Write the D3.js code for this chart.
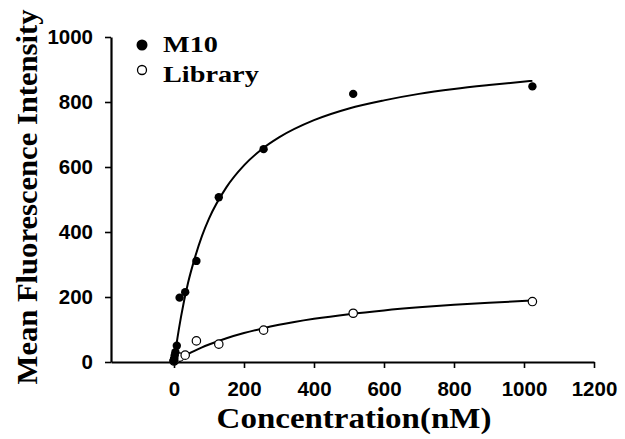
<!DOCTYPE html>
<html><head><meta charset="utf-8">
<script src="https://cdn.jsdelivr.net/npm/d3@7"></script>
<style>html,body{margin:0;padding:0;background:#fff;}svg{display:block;}</style>
</head><body>
<svg id="c" width="625" height="439"></svg>
<script>
// Data
const conc = [0, 1, 2, 4, 8, 16, 32, 64, 128, 256, 512, 1024];
const m10 = [5, 10, 20, 30, 50, 198, 215, 311, 507, 655, 825, 848];
const library = [3, 5, 8, 12, 10, 15, 21, 65, 55, 98, 150, 186];
// Fitted curves
const fitX = [0, 5, 10, 20, 40, 60, 80, 100, 150, 200, 250, 300, 400, 500, 600, 700, 800, 900, 1024];
const fitM10 = [0, 39, 75, 139, 243, 322, 388, 441, 538, 605, 654, 691, 744, 780, 805, 825, 840, 852, 865];
const fitLib = [0, 3.3, 6.6, 12.9, 24.6, 35.2, 45, 53.8, 73.2, 89.1, 102.5, 114.3, 132.8, 147.2, 158.7, 168.1, 175.9, 182.4, 189];
const xTicks = [0, 200, 400, 600, 800, 1000, 1200];
const yTicks = [0, 200, 400, 600, 800, 1000];
const seriesNames = ["M10", "Library"];

const svg = d3.select("#c");
const x = d3.scaleLinear().domain([-180, 1200]).range([111, 594]);
const y = d3.scaleLinear().domain([0, 1000]).range([362, 37]);

const tickFont = "'Liberation Sans', Arial, sans-serif";
const serif = "'Liberation Serif', 'Times New Roman', serif";

// axes
const xAxis = svg.append("g").attr("transform", `translate(0,${y(0)})`)
  .call(d3.axisBottom(x).tickValues(xTicks).tickFormat(d3.format("d")).tickSize(6).tickPadding(13).tickSizeOuter(0));
const yAxis = svg.append("g").attr("transform", `translate(${x.range()[0]},0)`)
  .call(d3.axisLeft(y).tickValues(yTicks).tickFormat(d3.format("d")).tickSize(6).tickPadding(12).tickSizeOuter(0));
[xAxis, yAxis].forEach(g => {
  g.select(".domain").attr("stroke", "#000").attr("stroke-width", 2.2);
  g.selectAll(".tick line").attr("stroke", "#000").attr("stroke-width", 1.6);
  g.selectAll(".tick text").attr("fill", "#000").style("font-family", tickFont)
    .style("font-weight", "bold").style("font-size", "20.5px");
});

// fitted curves
const line = d3.line().x(d => x(d[0])).y(d => y(d[1])).curve(d3.curveMonotoneX);
svg.append("path").datum(fitX.map((v, i) => [v, fitM10[i]]))
  .attr("d", line).attr("fill", "none").attr("stroke", "#000").attr("stroke-width", 2);
svg.append("path").datum(fitX.map((v, i) => [v, fitLib[i]]))
  .attr("d", line).attr("fill", "none").attr("stroke", "#000").attr("stroke-width", 2);

// points
svg.append("g").selectAll("circle").data(conc.map((c, i) => [c, library[i]])).join("circle")
  .attr("cx", d => x(d[0])).attr("cy", d => y(d[1])).attr("r", 4.2)
  .attr("fill", "#fff").attr("stroke", "#000").attr("stroke-width", 1.2);
svg.append("g").selectAll("circle").data(conc.map((c, i) => [c, m10[i]])).join("circle")
  .attr("cx", d => x(d[0])).attr("cy", d => y(d[1])).attr("r", 4.2)
  .attr("fill", "#000");

// legend
const lg = svg.append("g");
lg.append("circle").attr("cx", 142).attr("cy", 45).attr("r", 5.5).attr("fill", "#000");
lg.append("circle").attr("cx", 142).attr("cy", 70).attr("r", 4.5).attr("fill", "#fff")
  .attr("stroke", "#000").attr("stroke-width", 1.3);
lg.selectAll("text").data(seriesNames).join("text")
  .attr("transform", (d, i) => `translate(163,${52 + i * 30}) scale(1.23,1)`)
  .style("font-family", serif).style("font-weight", "bold").style("font-size", "23px")
  .text(d => d);

// axis titles
svg.append("text").attr("transform", "translate(354,428) scale(1.1,1)").attr("text-anchor", "middle")
  .style("font-family", serif).style("font-weight", "bold").style("font-size", "30px")
  .text("Concentration(nM)");
svg.append("text").attr("transform", "translate(37,197) rotate(-90) scale(1.02,1)").attr("text-anchor", "middle")
  .style("font-family", serif).style("font-weight", "bold").style("font-size", "30px")
  .text("Mean Fluorescence Intensity");
</script>
</body></html>
